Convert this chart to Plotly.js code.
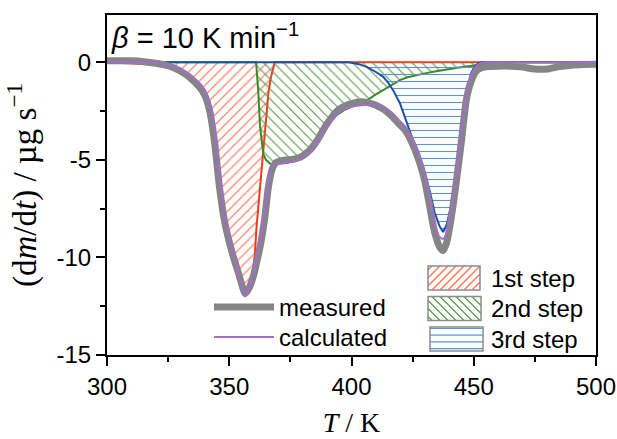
<!DOCTYPE html>
<html><head><meta charset="utf-8">
<script src="https://cdn.plot.ly/plotly-3.0.1.min.js"></script>
<style>html,body{margin:0;padding:0;background:#fff}#chart{width:617px;height:439px}</style>
</head><body><div id="chart"></div>
<script>
// ---- data ----
const T_meas = [300,305,310,315,320,325,330,334,338,340,342,344,346,348,350,352,354,356.5,358,360,361.5,363,364.5,366,367.5,369,371,374,377,380,383,386,389,392,395,398,401,404,407,410,413,416,419,422,425,428,430,432,434,436,437.5,439,441,443,445,447,449,451,453,456,460,465,470,475,480,485,490,495,500];
const measured = [0.08,0.08,0.07,0.03,-0.05,-0.18,-0.45,-0.8,-1.3,-1.7,-2.5,-4.1,-6.4,-8.1,-9.2,-10.1,-10.9,-11.85,-11.6,-10.9,-10.1,-9.2,-8.0,-6.4,-5.5,-5.15,-5.05,-5.0,-4.95,-4.8,-4.5,-4.0,-3.35,-2.8,-2.4,-2.2,-2.08,-2.02,-2.08,-2.2,-2.4,-2.7,-3.1,-3.5,-4.2,-5.2,-6.1,-7.4,-8.7,-9.45,-9.65,-9.2,-7.8,-6.0,-4.0,-1.9,-0.95,-0.45,-0.3,-0.22,-0.2,-0.2,-0.25,-0.35,-0.35,-0.22,-0.15,-0.12,-0.1];
const calculated = [0,0,0,-0.01,-0.05,-0.15,-0.35,-0.65,-1.1,-1.45,-2.1,-3.5,-5.8,-7.8,-9.0,-10.0,-10.9,-12.0,-11.6,-10.7,-9.8,-8.9,-7.6,-6.1,-5.4,-5.25,-5.2,-5.15,-5.05,-4.9,-4.6,-4.1,-3.45,-2.9,-2.55,-2.35,-2.25,-2.2,-2.18,-2.2,-2.3,-2.55,-2.95,-3.4,-4.0,-4.9,-5.8,-7.0,-8.3,-8.95,-9.05,-8.7,-7.5,-5.8,-3.8,-1.7,-0.7,-0.2,-0.03,0,0,0,0,0,0,0,0,0,0];

const T_step1 = [300,325,330,334,338,340,342,344,346,348,350,352,354,356.5,358,359.5,360.5,361.2,362,362.8,364,365,366,367,368,368.6,370,500];
const step1 = [0,-0.15,-0.35,-0.65,-1.1,-1.45,-2.1,-3.5,-5.8,-7.8,-9.0,-10.0,-10.9,-12.0,-11.6,-10.9,-9.8,-8.4,-7.2,-6.2,-4.2,-2.8,-1.6,-0.8,-0.2,0,0,0];

const T_step2 = [300,361,361.9,362.6,363.9,365,366.7,368,370,373,376,379,382,385,388,391,394,397,400,403,406,410,413,416,420,423,427,430,434,437,440,444,447,451,455,460,465,500];
const step2 = [0,0,-1.6,-3.3,-4.7,-5.0,-5.2,-5.25,-5.2,-5.15,-5.08,-4.95,-4.7,-4.3,-3.7,-3.1,-2.7,-2.45,-2.28,-2.15,-1.98,-1.65,-1.43,-1.18,-0.9,-0.77,-0.65,-0.57,-0.48,-0.41,-0.34,-0.27,-0.22,-0.15,-0.07,-0.02,0,0];

const T_step3 = [300,399,403,406.2,410,413,415,417,419.8,422.6,425.3,427.5,430,432,434,436,437.5,439,441,443,445,447,449,450.5,452,453,500];
const step3 = [0,0,-0.1,-0.24,-0.5,-0.75,-1.05,-1.43,-2.1,-3.1,-4.1,-4.9,-5.7,-6.6,-7.7,-8.4,-8.7,-8.3,-7.2,-5.5,-3.5,-1.5,-0.55,-0.2,-0.05,0,0];

const xTickVals = [300,350,400,450,500];
const xTickText = ['300','350','400','450','500'];
const yTickVals = [0,-5,-10,-15];
const yTickText = ['0','-5','-10','-15'];
const seriesNames = ['measured','calculated'];
const stepNames = ['1st step','2nd step','3rd step'];

// ---- styling ----
const W=617, H=439, M={l:107,r:21,t:15,b:84};
const pw=W-M.l-M.r, ph=H-M.t-M.b;
const px2x = p => (p-M.l)/pw;
const py2y = p => (H-M.b-p)/ph;
const SANS = 'Liberation Sans, Arial, sans-serif';
const SERIF = 'Liberation Serif, Times New Roman, serif';

const C = {
  red:'#F23A18', redHatch:'#FA6E50',
  green:'#3C8A26', greenHatch:'#559A45',
  blue:'#1A4FA6', blueHatch:'#5E92D6',
  gray:'#858585', purple:'#A070C8', box:'#8C8C8C'
};

function stepTrace(x,y,name,color,hatchColor,shape){
  return {x:x,y:y,name:name,mode:'lines',type:'scatter',showlegend:false,
    line:{color:color,width:2},fill:'tozeroy',fillcolor:'rgba(0,0,0,0)',
    fillpattern:{shape:shape,fgcolor:hatchColor,bgcolor:'rgba(0,0,0,0)',size:7,solidity:0.16},
    hoverinfo:'skip'};
}

const traces = [
  stepTrace(T_step1, step1, stepNames[0], C.red, C.redHatch, '/'),
  stepTrace(T_step2, step2, stepNames[1], C.green, C.greenHatch, '\\'),
  stepTrace(T_step3, step3, stepNames[2], C.blue, C.blueHatch, '-'),
  {x:T_meas,y:measured,name:seriesNames[0],mode:'lines',type:'scatter',legend:'legend',
   line:{color:C.gray,width:7,shape:'spline',smoothing:0.6}},
  {x:T_meas,y:calculated,name:seriesNames[1],mode:'lines',type:'scatter',legend:'legend2',
   line:{color:C.purple,width:2,shape:'spline',smoothing:0.6}}
];

// manual legend boxes for the three steps
const boxes = [
  {x0:428,x1:480,y0:266,y1:290,pat:'/',col:C.redHatch,ty:278},
  {x0:428,x1:481,y0:296.5,y1:320.5,pat:'\\',col:C.greenHatch,ty:308.5},
  {x0:430,x1:483,y0:327,y1:351,pat:'-',col:C.blueHatch,ty:339}
];
const shapes = [];
const annotations = [];
function seg(xa,ya,xb,yb,col){
  shapes.push({type:'line',xref:'paper',yref:'paper',x0:px2x(xa),y0:py2y(ya),x1:px2x(xb),y1:py2y(yb),line:{color:col,width:1.2}});
}
boxes.forEach((b,i)=>{
  const sp = b.pat==='-' ? 6.7 : 8;
  if(b.pat==='/'){
    for(let c=b.x0+b.y0+sp/2;c<b.x1+b.y1;c+=sp){
      const xa=Math.max(b.x0,c-b.y1), xb=Math.min(b.x1,c-b.y0);
      if(xb>xa+1) seg(xa,c-xa,xb,c-xb,b.col);
    }
  } else if(b.pat==='\\'){
    for(let c=b.x0-b.y1+sp/2;c<b.x1-b.y0;c+=sp){
      const xa=Math.max(b.x0,c+b.y0), xb=Math.min(b.x1,c+b.y1);
      if(xb>xa+1) seg(xa,xa-c,xb,xb-c,b.col);
    }
  } else {
    for(let y=b.y0+1.5;y<b.y1;y+=sp) seg(b.x0,y,b.x1,y,b.col);
  }
  shapes.push({type:'rect',xref:'paper',yref:'paper',x0:px2x(b.x0),x1:px2x(b.x1),y0:py2y(b.y1),y1:py2y(b.y0),line:{color:C.box,width:1.5},fillcolor:'rgba(0,0,0,0)'});
  annotations.push({xref:'paper',yref:'paper',x:px2x(489),y:py2y(b.ty),xanchor:'left',yanchor:'middle',showarrow:false,text:stepNames[i],font:{family:SANS,size:24,color:'#000'}});
});
annotations.push({xref:'paper',yref:'paper',x:px2x(109),y:py2y(36),xanchor:'left',yanchor:'middle',showarrow:false,
  text:'<i>β</i> = 10 K min<sup>−1</sup>',font:{family:SANS,size:29,color:'#000'}});

const axisCommon = {showgrid:false,zeroline:false,linecolor:'#000',linewidth:2,mirror:true,
  ticks:'outside',ticklen:9,tickwidth:2,tickcolor:'#000',
  tickfont:{family:SANS,size:24,color:'#000'},tickmode:'array'};

const legendCommon = {xanchor:'left',yanchor:'top',bgcolor:'rgba(0,0,0,0)',
  font:{family:SANS,size:24,color:'#000'},itemwidth:60,tracegroupgap:0};

const layout = {
  width:W,height:H,margin:{l:M.l,r:M.r,t:M.t,b:M.b},
  paper_bgcolor:'#fff',plot_bgcolor:'#fff',
  showlegend:true,
  legend:Object.assign({},legendCommon,{x:px2x(209),y:py2y(285)}),
  legend2:Object.assign({},legendCommon,{x:px2x(209),y:py2y(315)}),
  xaxis:Object.assign({},axisCommon,{range:[300,500],tickvals:xTickVals,ticktext:xTickText,
    minor:{tickvals:[325,375,425,475],ticks:'outside',ticklen:5,tickwidth:2,tickcolor:'#000'},
    title:{text:'<i>T</i> / K',font:{family:SERIF,size:28,color:'#000'},standoff:14}}),
  yaxis:Object.assign({},axisCommon,{range:[-15,2.42],tickvals:yTickVals,ticktext:yTickText,
    minor:{tickvals:[-2.5,-7.5,-12.5],ticks:'outside',ticklen:5,tickwidth:2,tickcolor:'#000'},
    title:{text:'(d<i>m</i>/d<i>t</i>) / µg s<sup>−1</sup>',font:{family:SERIF,size:33,color:'#000'},standoff:10}}),
  shapes:shapes,annotations:annotations
};

Plotly.newPlot('chart',traces,layout,{displayModeBar:false,staticPlot:true});
</script></body></html>
